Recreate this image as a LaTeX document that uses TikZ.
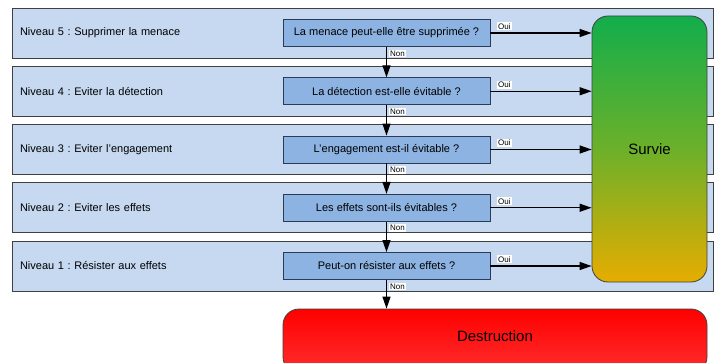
\documentclass[tikz,border=0pt]{standalone}
\usepackage{fontspec}
\setmainfont{Liberation Sans}
\frenchspacing
\usetikzlibrary{arrows.meta}
\definecolor{bandfill}{HTML}{C6D9F1}
\definecolor{bandline}{HTML}{404040}
\definecolor{askfill}{HTML}{8DB3E2}
\definecolor{askline}{HTML}{2B3B55}
\definecolor{liveTop}{HTML}{12AE4B}
\definecolor{liveMid}{HTML}{6CB02A}
\definecolor{liveBot}{HTML}{E6AD00}
\definecolor{deadTop}{HTML}{FF0000}
\definecolor{deadBot}{HTML}{FF2E2E}
\begin{document}
\begin{tikzpicture}[x=1pt, y=-1pt,
        band/.style = {draw=bandline, fill=bandfill, line width=0.8pt,
            minimum width=701pt, minimum height=50pt, text width=685pt,
            inner xsep=8pt, align=left, font=\fontsize{11}{13}\selectfont},
        ask/.style = {draw=askline, fill=askfill, line width=0.8pt,
            minimum width=207pt, minimum height=27pt,
            font=\fontsize{11}{13}\selectfont},
        flow/.style = {line width=1.3pt, -{Triangle[length=12pt,width=8pt]}},
        tag/.style = {fill=white, inner sep=1pt, font=\fontsize{8}{9}\selectfont}]
    \useasboundingbox (0,0) rectangle (717,363);
    \clip (0,0) rectangle (717,363);
    % levels
    \node [band] (b5) at (362.5,33) {Niveau 5 : Supprimer la menace};
    \node [band] (b4) at (362.5,91.25) {Niveau 4 : Eviter la détection};
    \node [band] (b3) at (362.5,149.5) {Niveau 3 : Eviter l'engagement};
    \node [band] (b2) at (362.5,207.75) {Niveau 2 : Eviter les effets};
    \node [band] (b1) at (362.5,266) {Niveau 1 : Résister aux effets};
    % questions
    \node [ask] (q5) at (386.5,33) {La menace peut-elle être supprimée ?};
    \node [ask] (q4) at (386.5,91.25) {La détection est-elle évitable ?};
    \node [ask] (q3) at (386.5,149.5) {L'engagement est-il évitable ?};
    \node [ask] (q2) at (386.5,207.75) {Les effets sont-ils évitables ?};
    \node [ask] (q1) at (386.5,266) {Peut-on résister aux effets ?};
    % outcomes
    \node [draw=bandline, line width=0.8pt, rounded corners=16pt,
        top color=liveTop, bottom color=liveBot, middle color=liveMid,
        minimum width=115pt, minimum height=266pt,
        font=\fontsize{15}{17}\selectfont] (live) at (649.5,149) {Survie};
    \node [draw=bandline, line width=0.8pt, rounded corners=16pt,
        top color=deadTop, bottom color=deadBot,
        minimum width=424pt, minimum height=64pt, text depth=10pt,
        font=\fontsize{15}{17}\selectfont] (dead) at (495,341) {Destruction};
    % oui
    \draw [flow] (q5.east) -- node [tag, pos=0, anchor=south west, xshift=6pt, yshift=2pt] {Oui} (q5 -| live.west);
    \draw [flow] (q4.east) -- node [tag, pos=0, anchor=south west, xshift=6pt, yshift=2pt] {Oui} (q4 -| live.west);
    \draw [flow] (q3.east) -- node [tag, pos=0, anchor=south west, xshift=6pt, yshift=2pt] {Oui} (q3 -| live.west);
    \draw [flow] (q2.east) -- node [tag, pos=0, anchor=south west, xshift=6pt, yshift=2pt] {Oui} (q2 -| live.west);
    \draw [flow] (q1.east) -- node [tag, pos=0, anchor=south west, xshift=6pt, yshift=2pt] {Oui} (q1 -| live.west);
    % non
    \draw [flow] (q5.south) -- node [tag, pos=0, anchor=north west, xshift=2pt, yshift=-2pt] {Non} (q4.north);
    \draw [flow] (q4.south) -- node [tag, pos=0, anchor=north west, xshift=2pt, yshift=-2pt] {Non} (q3.north);
    \draw [flow] (q3.south) -- node [tag, pos=0, anchor=north west, xshift=2pt, yshift=-2pt] {Non} (q2.north);
    \draw [flow] (q2.south) -- node [tag, pos=0, anchor=north west, xshift=2pt, yshift=-2pt] {Non} (q1.north);
    \draw [flow] (q1.south) -- node [tag, pos=0, anchor=north west, xshift=2pt, yshift=-2pt] {Non} (q1 |- dead.north);
\end{tikzpicture}
\end{document}
